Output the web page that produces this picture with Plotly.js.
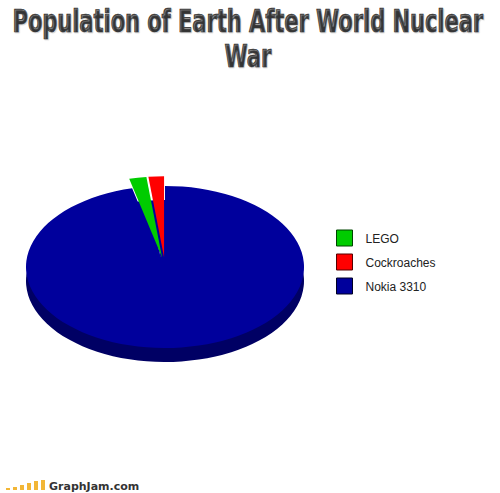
<!DOCTYPE html>
<html><head><meta charset="utf-8">
<script src="https://cdn.plot.ly/plotly-3.0.1.min.js"></script>
<style>html,body{margin:0;padding:0;background:#fff}#chart{width:500px;height:493px}</style>
</head><body><div id="chart"></div>
<script>
// ---- data ----
const labels = ['LEGO', 'Cockroaches', 'Nokia 3310'];
const values = [2.0, 1.8, 96.2];
const titleText = 'Population of Earth After World Nuclear<br>War';
const siteText = 'GraphJam.com';
const logoBars = [2, 3, 5, 7, 9, 10];

// ---- styling / geometry ----
const W = 500, H = 493;
const CX = 165, CY = 267, R = 139, SQUASH = 0.583, DEPTH = 14, PULL = 0.12;
const faceColors = ['#00cc00', '#ff0000', '#00009c'];
const sideColors = ['#00009c', '#00009c', '#000064'];
const legendBorders = ['#004400', '#550000', '#000022'];

function dom(cx, cy, r, pull) {
  const half = r * (1 + pull);
  return {x: [(cx - half) / W, (cx + half) / W], y: [(H - cy - half) / H, (H - cy + half) / H]};
}
const startRot = -(values[0] + values[1]) * 3.6;

const side = {
  type: 'pie', labels: labels, values: values, sort: false, direction: 'clockwise',
  rotation: startRot, textinfo: 'none', showlegend: false, hoverinfo: 'skip',
  marker: {colors: sideColors, line: {width: 0}},
  domain: dom(CX, CY + DEPTH / SQUASH, R, 0)
};
const face = {
  type: 'pie', labels: labels, values: values, sort: false, direction: 'clockwise',
  rotation: startRot, textinfo: 'none', pull: [PULL, PULL, 0],
  marker: {colors: faceColors, line: {width: 0}},
  domain: dom(CX, CY, R, PULL)
};

const shapes = logoBars.map((h, i) => ({
  type: 'rect', xref: 'paper', yref: 'paper',
  x0: (6 + i * 7) / W, x1: (10 + i * 7) / W,
  y0: (H - 490) / H, y1: (H - 490 + h) / H,
  fillcolor: '#f2b636', line: {width: 0}
}));

const layout = {
  width: W, height: H,
  margin: {l: 0, r: 0, t: 0, b: 0, autoexpand: false},
  paper_bgcolor: '#fff', plot_bgcolor: '#fff',
  title: {
    text: titleText, x: 0.5, xanchor: 'center', xref: 'paper',
    y: 1 - 4 / H, yanchor: 'top', yref: 'container',
    font: {family: 'DejaVu Sans Condensed, Liberation Sans Narrow, Liberation Sans, sans-serif', size: 22, color: '#333333', weight: 'bold', shadow: '1px 1px 1px #d0d0d0'}
  },
  showlegend: true,
  legend: {
    x: 0.651, xanchor: 'left', y: (H - 262) / H, yanchor: 'middle',
    font: {family: 'Liberation Sans, Arial, sans-serif', size: 12, color: '#222'},
    bgcolor: 'rgba(0,0,0,0)', borderwidth: 0
  },
  annotations: [{
    text: '<b>' + siteText + '</b>', xref: 'paper', yref: 'paper',
    x: 47 / W, y: (H - 486) / H, xanchor: 'left', yanchor: 'middle', showarrow: false,
    font: {family: 'DejaVu Sans, Verdana, sans-serif', size: 11, color: '#333'}
  }],
  shapes: shapes
};

Plotly.newPlot('chart', [side, face], layout, {staticPlot: true}).then(gd => {
  // squash pie into a tilted ellipse
  const pl = gd.querySelector('.pielayer');
  if (pl) pl.setAttribute('transform', `translate(0,${CY * (1 - SQUASH)}) scale(1,${SQUASH})`);

  // condensed heavy title
  const t = gd.querySelector('.gtitle');
  if (t) {
    const lines = t.querySelectorAll('tspan.line');
    const fs = 22;
    const sy = 23 / (0.73 * fs);
    if (lines.length > 1) lines[1].setAttribute('dy', (35 / sy) + 'px');
    t.style.stroke = '#333333';
    t.style.strokeWidth = '0.5px';
    const bb = t.getBBox();
    const sx = 471 / bb.width;
    const cxb = bb.x + bb.width / 2;
    t.setAttribute('transform', `translate(248,${3}) scale(${sx},${sy}) translate(${-cxb},${-bb.y})`);
  }

  // bigger bordered legend swatches with more spacing
  const items = gd.querySelectorAll('.legend .traces');
  items.forEach((it, i) => {
    const p = it.querySelector('.legendpoints path');
    if (p) {
      p.setAttribute('d', 'M7,8H-9V-8H7Z');
      p.style.stroke = legendBorders[i];
      p.style.strokeWidth = '1px';
      p.style.strokeOpacity = '1';
    }
    const tr = it.getAttribute('transform') || '';
    const m = tr.match(/translate\(([-\d.]+)[ ,]*([-\d.]+)?\)/);
    if (m) {
      const x = parseFloat(m[1]), y = parseFloat(m[2] || 0);
      it.setAttribute('transform', `translate(${x},${y + i * 5 - 5})`);
    }
  });
});
</script>
</body></html>
